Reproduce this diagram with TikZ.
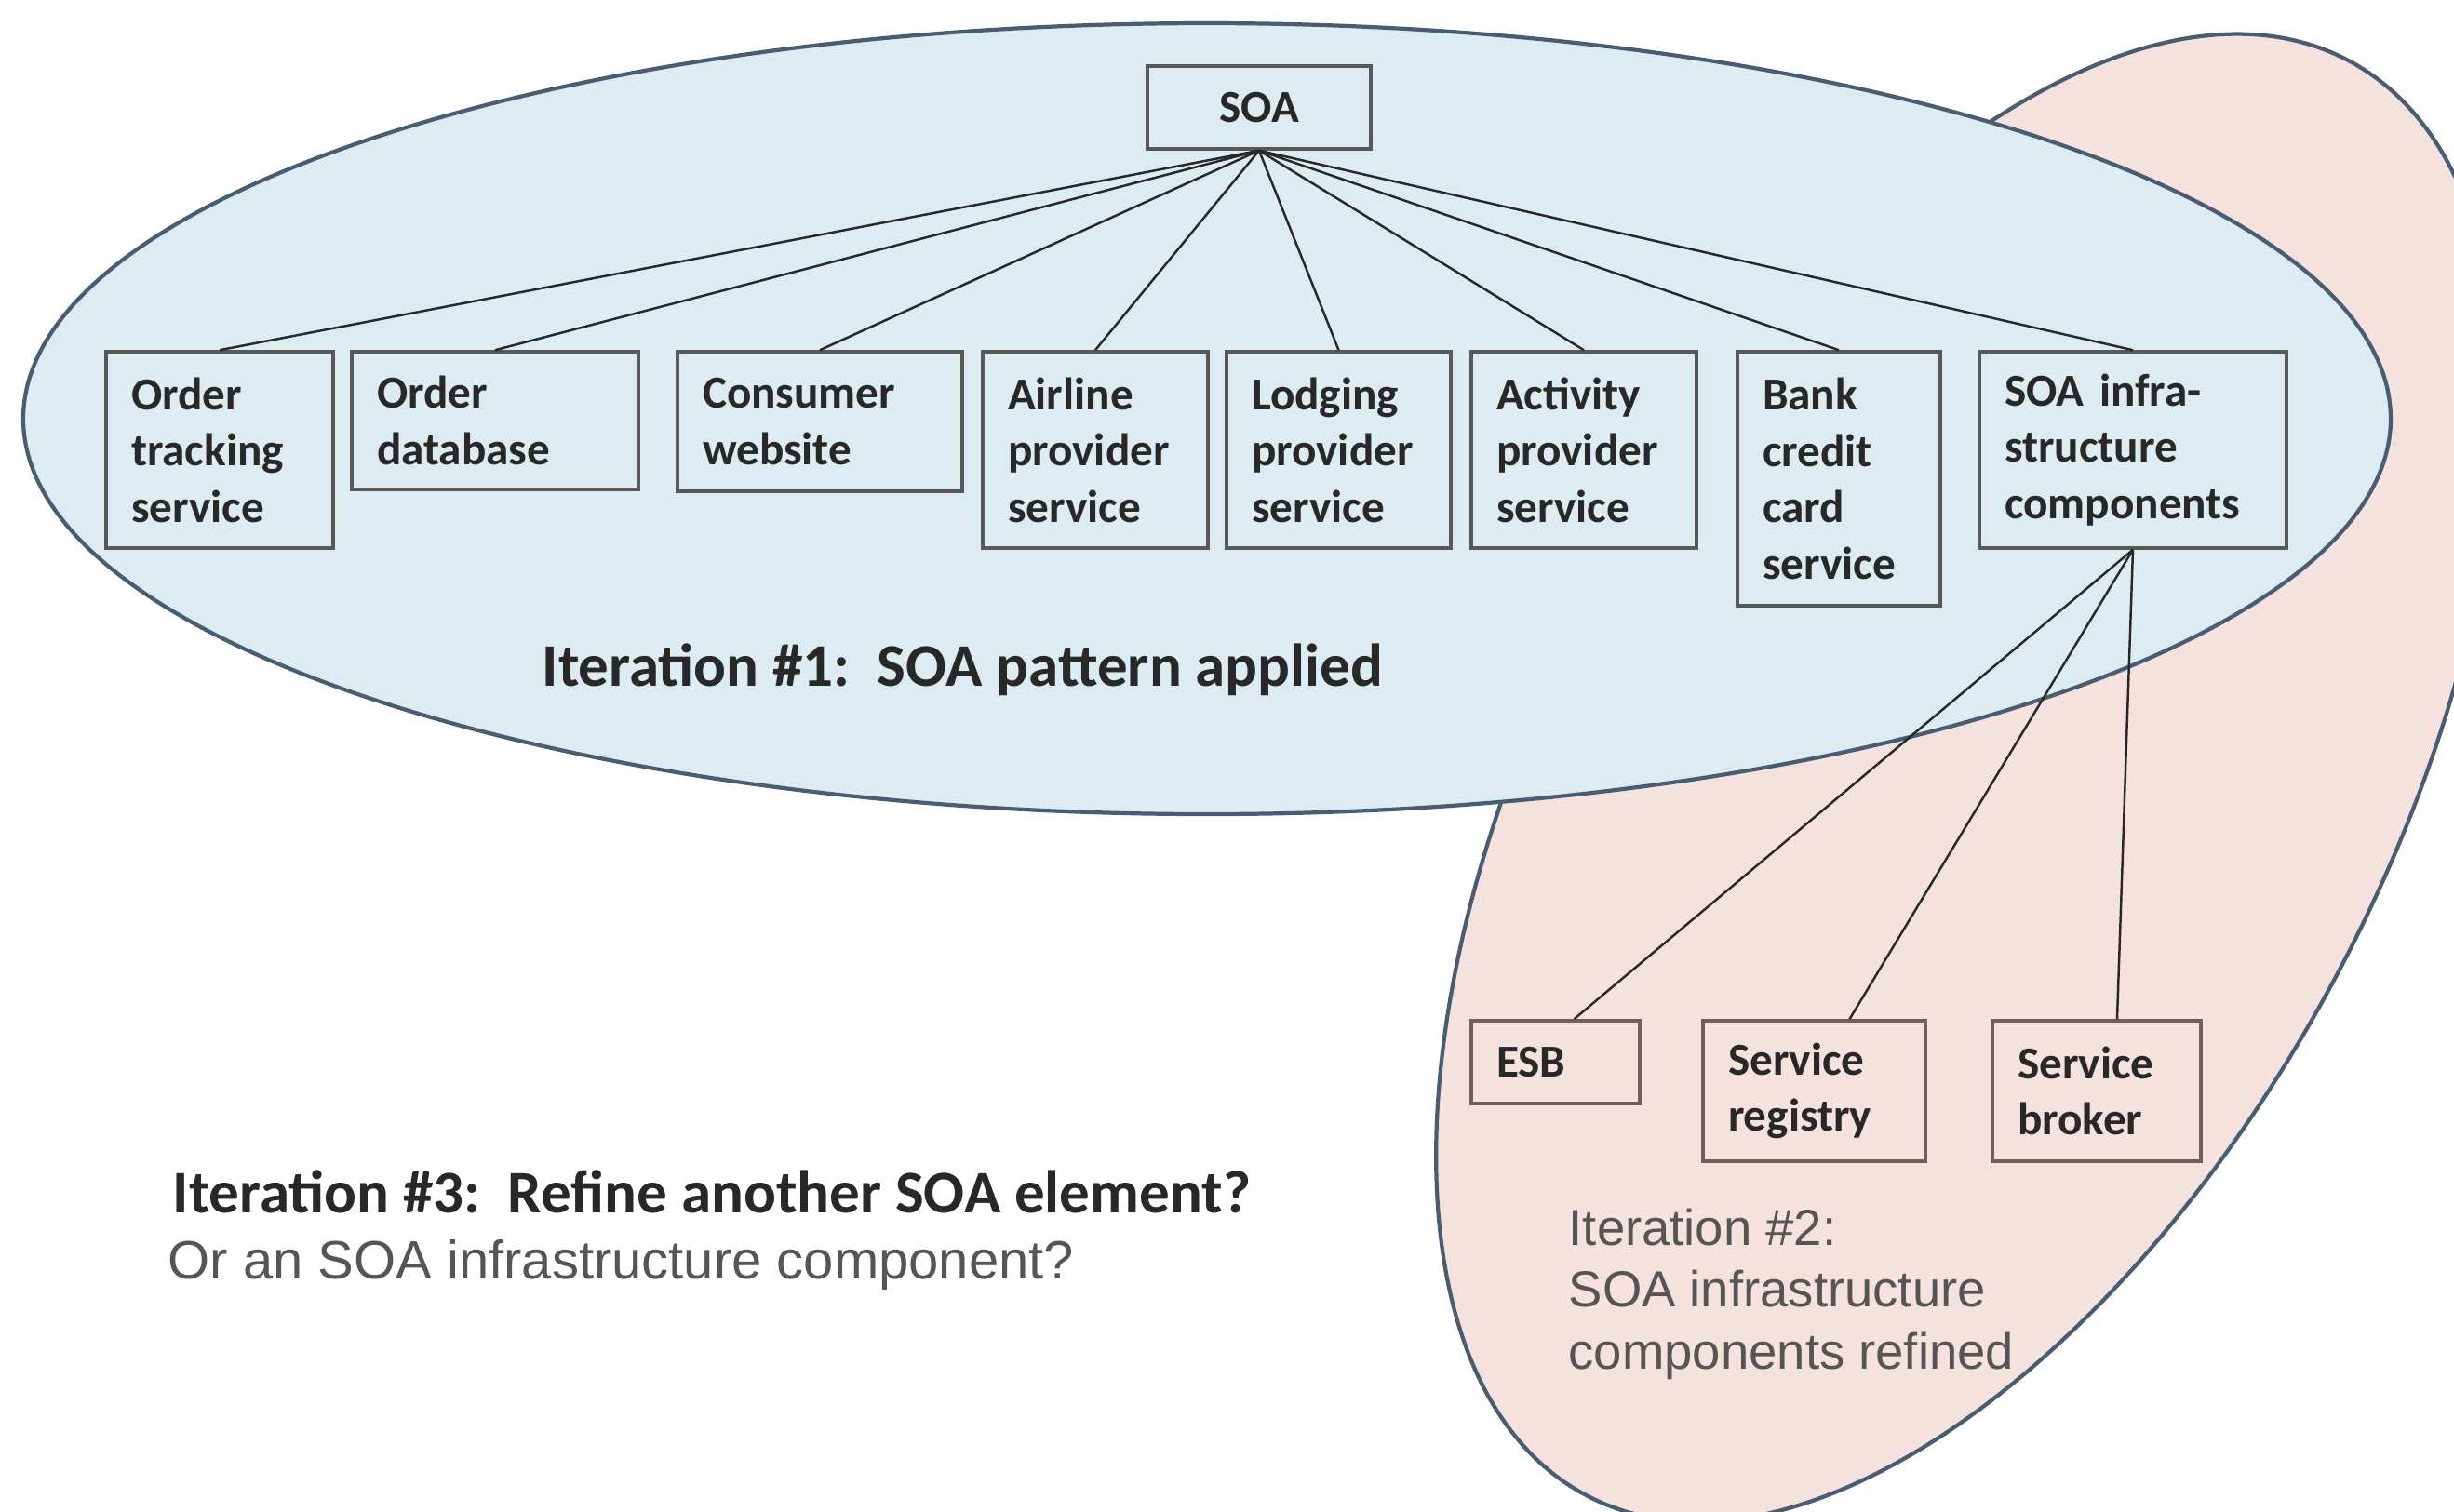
\documentclass[tikz,border=0pt]{standalone}
\usepackage{fontspec}
\setmainfont{Carlito}
\newfontfamily\arialfont{Liberation Sans}
\usetikzlibrary{positioning}

\definecolor{iterblue}{RGB}{221,235,243}
\definecolor{iterpink}{RGB}{245,225,222}
\definecolor{blobline}{RGB}{72,92,114}
\definecolor{boxline}{RGB}{88,88,88}
\definecolor{lowline}{RGB}{110,95,95}
\definecolor{txt}{RGB}{40,40,40}
\definecolor{greytxt}{RGB}{85,85,85}

\begin{document}
\begin{tikzpicture}[
  box/.style={draw=boxline, line width=1pt, align=left, inner xsep=0.27cm, text=txt, font=\bfseries\fontsize{14}{17.2}\selectfont},
  soabox/.style={draw=boxline, line width=1pt, align=center, text=txt, font=\bfseries\fontsize{14}{17.2}\selectfont},
  link/.style={draw=txt, line width=0.7pt},
  blob/.style={draw=blobline, line width=1.2pt},
  note/.style={anchor=base west, inner sep=0pt, text=txt, font=\bfseries\fontsize{18.5}{22}\selectfont},
]
\useasboundingbox (0,0) rectangle (26.37,-16.24);
\begin{scope}
\clip (0,0) rectangle (26.37,-16.24);
\draw[blob, fill=iterpink, rotate around={62:(21.14,-8.36)}] (21.14,-8.36) ellipse (8.73 and 4.5);
\end{scope}
\draw[blob, fill=iterblue] (12.97,-4.50) ellipse (12.72 and 4.25);

\node[soabox, minimum width=2.40cm, minimum height=0.89cm] (soa) at (13.53,-1.155) {SOA};
\node[box, text width=1.90cm, minimum height=2.11cm] (track) at (2.36,-4.835) {Order\\ tracking\\ service};
\node[box, text width=2.54cm, minimum height=1.48cm] (odb) at (5.32,-4.52) {Order\\ database};
\node[box, text width=2.52cm, minimum height=1.50cm] (web) at (8.81,-4.53) {Consumer\\ website};
\node[box, text width=1.88cm, minimum height=2.11cm] (air) at (11.77,-4.835) {Airline\\ provider\\ service};
\node[box, text width=1.87cm, minimum height=2.11cm] (lodge) at (14.385,-4.835) {Lodging\\ provider\\ service};
\node[box, text width=1.88cm, minimum height=2.11cm] (act) at (17.02,-4.835) {Activity\\ provider\\ service};
\node[box, text width=1.64cm, minimum height=2.73cm] (bank) at (19.76,-5.145) {Bank\\ credit\\ card\\ service};
\node[box, text width=2.76cm, minimum height=2.11cm] (infra) at (22.92,-4.835) {SOA infra-\\ structure\\ components};
\node[box, draw=lowline, text width=1.27cm, minimum height=0.89cm] (esb) at (16.715,-11.415) {ESB};
\node[box, draw=lowline, text width=1.85cm, minimum height=1.51cm] (reg) at (19.495,-11.725) {Service\\ registry};
\node[box, draw=lowline, text width=1.70cm, minimum height=1.51cm] (brk) at (22.53,-11.725) {Service\\ broker};

\foreach \n in {track,odb,web,air,lodge,act,bank,infra}
  \draw[link] (soa.south) -- (\n.north);
\draw[link] (infra.south) -- ([xshift=0.2cm]esb.north);
\draw[link] (infra.south) -- ([xshift=0.38cm]reg.north);
\draw[link] (infra.south) -- ([xshift=0.22cm]brk.north);

\node[note] (it1) at (5.82,-7.37) {Iteration \#1:\ \ SOA pattern applied};
\node[note, anchor=north west, align=left, text=greytxt, font=\arialfont\fontsize{15.5}{19}\selectfont] (it2) at (16.85,-12.98) {Iteration \#2:\\ SOA infrastructure\\ components refined};
\node[note] (it3) at (1.85,-13.03) {Iteration \#3:\ \ Refine another SOA element?};
\node[note, text=greytxt, font=\arialfont\fontsize{16.5}{20}\selectfont] (it3q) at (1.80,-13.74) {Or an SOA infrastructure component?};
\end{tikzpicture}
\end{document}
